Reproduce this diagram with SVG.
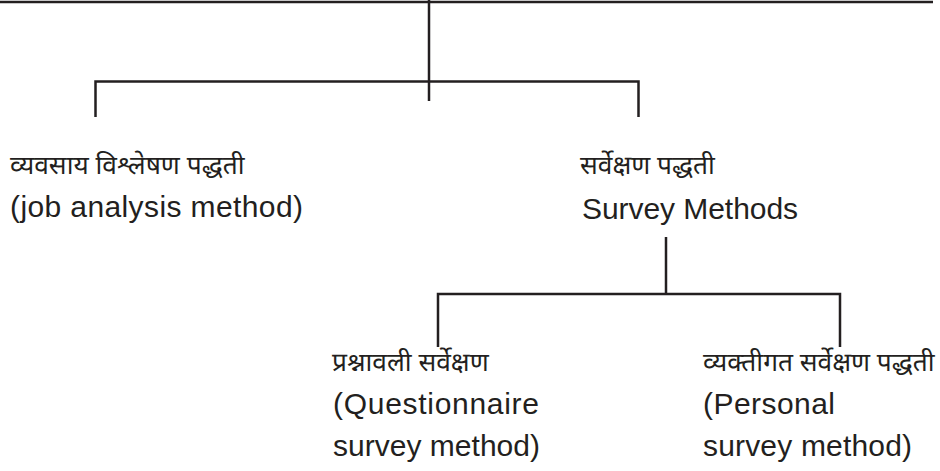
<svg xmlns="http://www.w3.org/2000/svg" width="940" height="471" viewBox="0 0 940 471">
<style>
.ln{stroke:#231f20;stroke-width:2.5;fill:none;stroke-linecap:butt}
.en{font-family:"Liberation Sans",Arial,sans-serif;font-size:30px;fill:#231f20}
.hi{font-family:"Noto Sans Devanagari","Lohit Devanagari","Noto Sans",sans-serif;font-size:26.3px;fill:#231f20}
</style>
<rect width="940" height="471" fill="#ffffff"/>
<g id="connectors">
<line class="ln" x1="0" y1="2" x2="933" y2="2"/>
<line class="ln" x1="429" y1="0" x2="429" y2="101"/>
<polyline class="ln" points="95.5,117 95.5,81.5 638.5,81.5 638.5,117"/>
<line class="ln" x1="666" y1="237" x2="666" y2="294"/>
<polyline class="ln" points="438,347 438,294 840,294 840,347"/>
</g>
<g id="job-analysis">
<text class="hi" x="10" y="174">व्यवसाय विश्लेषण पद्धती</text>
<text class="en" x="10" y="217" textLength="293">(job analysis method)</text>
</g>
<g id="survey-methods">
<text class="hi" x="580" y="174">सर्वेक्षण पद्धती</text>
<text class="en" x="582" y="219" textLength="216">Survey Methods</text>
</g>
<g id="questionnaire">
<text class="hi" x="332" y="371">प्रश्नावली सर्वेक्षण</text>
<text class="en" x="333" y="414" textLength="206">(Questionnaire</text>
<text class="en" x="333" y="456" textLength="207">survey method)</text>
</g>
<g id="personal">
<text class="hi" x="703" y="371">व्यक्तीगत सर्वेक्षण पद्धती</text>
<text class="en" x="703" y="414" textLength="132">(Personal</text>
<text class="en" x="703" y="456" textLength="209">survey method)</text>
</g>
</svg>
